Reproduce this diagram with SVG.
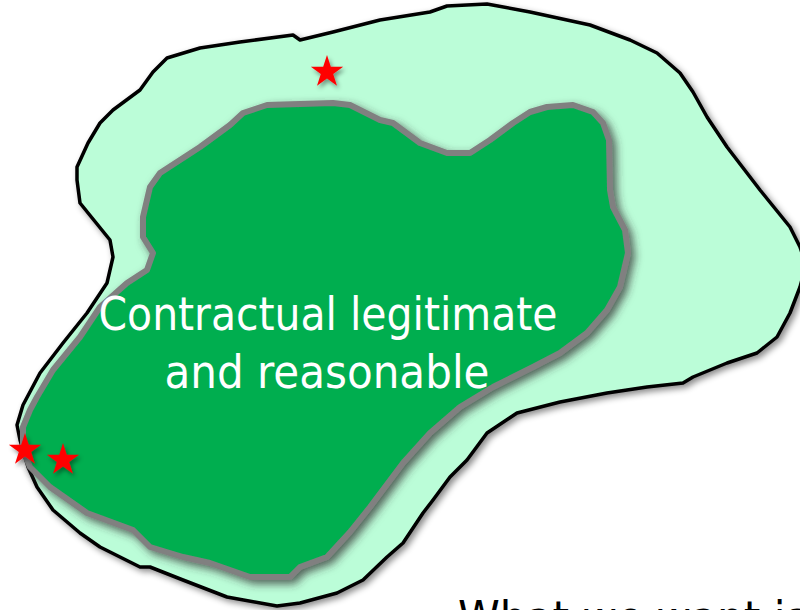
<svg xmlns="http://www.w3.org/2000/svg" xmlns:xlink="http://www.w3.org/1999/xlink" width="800" height="610" viewBox="0 0 800 610">
<style>
.outer{fill:#BBFDD8;stroke:#000;stroke-width:3.5;stroke-linejoin:round}
.inner{fill:#00AE50;stroke:#808080;stroke-width:6;stroke-linejoin:round}
.lbl{font-family:"DejaVu Sans Condensed","DejaVu Sans",sans-serif;font-size:46px;fill:#fff;text-anchor:middle}
.foot{font-family:"DejaVu Sans Condensed","DejaVu Sans",sans-serif;font-size:47px;fill:#000}
.star{fill:#FF0000}
</style>
<defs>
<filter id="sh" x="-10%" y="-10%" width="125%" height="125%">
<feDropShadow dx="3" dy="3" stdDeviation="3" flood-color="#000" flood-opacity="0.45"/>
</filter>
<filter id="sh2" x="-10%" y="-10%" width="125%" height="125%">
<feDropShadow dx="4" dy="4" stdDeviation="4.5" flood-color="#333" flood-opacity="0.75"/>
</filter>
<filter id="shs" x="-50%" y="-50%" width="200%" height="200%">
<feDropShadow dx="2" dy="3" stdDeviation="2" flood-color="#000" flood-opacity="0.4"/>
</filter>
<polygon id="starShape" points="0,-17 3.82,-5.26 16.17,-5.25 6.18,2.01 9.99,13.75 0,6.5 -9.99,13.75 -6.18,2.01 -16.17,-5.25 -3.82,-5.26"/>
</defs>
<g id="outer-region">
<path class="outer" filter="url(#sh)" d="M167,58 L200,48 L240,42 L293,35 L300,40 L333,32 L380,20 L430,12 L447,6 L487,4 L530,12 L590,25 L630,40 L657,53 L680,73 L693,92 L707,117 L727,147 L760,190 L790,227 L800,247 L806,265 L800,287 L790,313 L777,337 L757,353 L727,363 L693,377 L683,383 L647,387 L607,393 L560,402 L517,413 L487,433 L467,460 L450,477 L433,500 L423,513 L403,543 L387,557 L363,580 L337,593 L300,603 L277,606 L227,597 L183,580 L150,567 L140,567 L100,547 L80,533 L53,510 L37,487 L28,467 L20,440 L17,425 L23,405 L40,373 L63,343 L87,313 L107,283 L113,257 L110,240 L80,203 L77,180 L77,167 L88,143 L100,123 L113,110 L140,90 L153,72 Z"/>
</g>
<g id="inner-region">
<path class="inner" filter="url(#sh2)" d="M230,125 L243,113 L267,105 L333,103 L350,105 L380,120 L393,123 L420,143 L447,153 L470,153 L490,140 L513,123 L530,112 L547,107 L573,105 L593,112 L603,123 L609,140 L610,190 L613,207 L625,230 L628,253 L620,287 L607,310 L587,333 L560,353 L533,367 L493,387 L460,407 L430,433 L403,463 L370,507 L350,532 L327,557 L300,567 L290,577 L250,577 L210,563 L183,557 L150,547 L133,530 L87,513 L50,487 L30,467 L23,450 L23,427 L30,410 L37,397 L53,370 L80,337 L100,307 L127,283 L147,270 L153,253 L143,237 L143,217 L150,187 L160,173 L200,147 Z"/>
<text class="lbl" x="328" y="330" textLength="459" lengthAdjust="spacingAndGlyphs">Contractual legitimate</text>
<text class="lbl" x="327" y="388" textLength="325" lengthAdjust="spacingAndGlyphs">and reasonable</text>
</g>
<g id="stars" filter="url(#shs)">
<use class="star" xlink:href="#starShape" href="#starShape" x="327" y="72"/>
<use class="star" xlink:href="#starShape" href="#starShape" x="25" y="450"/>
<use class="star" xlink:href="#starShape" href="#starShape" x="63" y="460"/>
</g>
<g id="footer">
<text class="foot" x="458" y="634">What we want is</text>
</g>
</svg>
